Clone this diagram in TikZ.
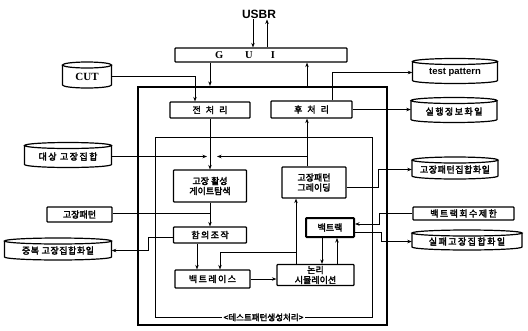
\documentclass[tikz,border=0pt]{standalone}
\usepackage{fontspec}
\setmainfont{Liberation Serif}
\newfontfamily\kr[FakeBold=2.5]{Noto Sans CJK KR}
\newfontfamily\krw[FakeBold=2.5,LetterSpace=16]{Noto Sans CJK KR}
\newfontfamily\krn[FakeBold=2.5,LetterSpace=6]{Noto Sans CJK KR}
\newfontfamily\hv{Liberation Sans}
\usetikzlibrary{arrows.meta,calc}
\newcommand\drum[6]{%
  \node[minimum width=#4pt, minimum height=#5pt, inner sep=0pt] (#1) at (#2,#3+1.5) {#6};
  \draw[drumline] (#2-#4/2,#3-#5/2+3) -- (#2-#4/2,#3+#5/2-3)
     arc[start angle=180,end angle=0,x radius=#4/2,y radius=3]
     -- (#2+#4/2,#3-#5/2+3);
  \draw[drumline] (#2,#3-#5/2+3) ellipse[x radius=#4/2,y radius=3];
}
\begin{document}
\begin{tikzpicture}[x=1pt,y=-1pt,
  every node/.style={font=\kr\fontsize{9}{10}\selectfont, align=center, inner sep=1pt},
  box/.style={draw, line width=1.2pt, rounded corners=0.8pt},
  drumline/.style={line width=1.2pt},
  conn/.style={line width=1pt},
  arr/.style={conn, -{Stealth[length=4.5pt,width=3.5pt]}}]
\useasboundingbox (0,0) rectangle (528,330);
% helper columns / rows
\coordinate (c148) at (148,0);
\coordinate (c195) at (195,0);
\coordinate (c197) at (197,0);
\coordinate (c207) at (207,0);
\coordinate (c217) at (217,0);
\coordinate (c220) at (220,0);
\coordinate (c253) at (253,0);
\coordinate (c267) at (267,0);
\coordinate (c296) at (296,0);
\coordinate (c307) at (307,0);
\coordinate (c322) at (322,0);
\coordinate (c332) at (332,0);
\coordinate (c337) at (337,0);
\coordinate (c378) at (378,0);
\coordinate (c379) at (379,0);
\coordinate (c381) at (381,0);
\coordinate (r187) at (0,187);
\coordinate (r213) at (0,213);
\coordinate (r224) at (0,224);
\coordinate (r232) at (0,232);
\coordinate (r237) at (0,237);
\coordinate (r252) at (0,252);
% frames
\node[draw, line width=2.2pt, minimum width=249pt, minimum height=238pt] (outer) at (262.5,206) {};
\node[draw, line width=0.8pt, minimum width=217pt, minimum height=180pt] (inner) at (263.5,227) {};
\node[fill=white, inner sep=1.5pt, font=\kr\fontsize{8.5}{9.5}\selectfont] (loopname) at (inner.south) {<테스트패턴생성처리>};
% top
\node[font=\hv\bfseries\fontsize{12}{13}\selectfont] (user) at (259,14) {USBR};
\node[box, minimum width=172pt, minimum height=14pt, font=\rmfamily\bfseries\fontsize{10.5}{11}\selectfont] (gui) at (261,55) {G\hspace{22pt}U\hspace{18pt}I\hspace{32pt}};
% boxes
\node[box, minimum width=80pt, minimum height=16pt] (pre) at (210,110) {전\hspace{5pt}처\hspace{5pt}리};
\node[box, minimum width=81pt, minimum height=17pt] (post) at (311.5,109.5) {후\hspace{5pt}처\hspace{5pt}리};
\node[box, minimum width=73pt, minimum height=32pt] (act) at (210,186) {고장 활성\\게이트탐색};
\node[box, minimum width=64pt, minimum height=31pt] (grade) at (314,182.5) {고장패턴\\그레이딩};
\node[box, minimum width=65pt, minimum height=15pt] (fpat) at (79.5,214.5) {고장패턴};
\node[box, minimum width=73pt, minimum height=16pt] (impl) at (210,235) {\krw 함의조작};
\node[box, minimum width=75pt, minimum height=18pt] (btrace) at (212.5,279) {\krw 백트레이스};
\node[box, minimum width=77pt, minimum height=21pt] (lsim) at (315.5,275) {논리\\시뮬레이션};
\node[box, line width=2pt, minimum width=48pt, minimum height=19pt] (btrack) at (330,227.5) {백트랙};
\node[box, minimum width=101pt, minimum height=13pt, font=\krw\fontsize{9}{10}\selectfont] (blimit) at (463.5,213.5) {백트랙회수제한};
% drums
\drum{cut}{87}{75}{49}{26}{\rmfamily\bfseries\fontsize{11}{12}\selectfont CUT}
\drum{tp}{455}{71}{85}{25}{\hv\bfseries\fontsize{9.5}{10}\selectfont test pattern}
\drum{runinfo}{454}{110}{86}{25}{\krw 실행정보화일}
\drum{target}{68}{155}{87}{25}{\krw 대상 고장집합}
\drum{fpset}{455}{168}{86}{22}{\krn 고장패턴집합화일}
\drum{redund}{58}{249}{107}{22}{\krn 중복 고장집합화일}
\drum{abort}{467}{240}{110}{20}{\krw 실패고장집합화일}
% connectors: top
\draw[arr] (user.south -| c253) -- (gui.north -| c253);
\draw[arr] (gui.north -| c267) -- (user.south -| c267);
\draw[arr] (gui.south -| pre.north) -- (outer.north -| pre.north);
\draw[arr] (outer.north -| c307) -- (gui.south -| c307);
\draw[arr] (cut.east) -| (pre.north -| c195);
\draw[arr] (post.north -| c332) |- (tp.west);
\draw[arr] (post.east) -- (runinfo.west |- post.east);
% middle
\draw[arr] (pre.south) -- (act.north);
\draw[arr] (target.east) -- (c207 |- target.east);
\draw[arr] (grade.north -| c307) -- (post.south -| c307);
\draw[arr] (c307 |- target.east) -- (c217 |- target.east);
\draw[arr] (grade.east |- r187) -| (c378 |- fpset.west) -- (fpset.west);
\draw[conn] (fpat.east |- r213) -- (act.south |- r213);
\draw[arr] (act.south) -- (impl.north);
\draw[arr] (impl.west |- r237) -| (c148 |- redund.east) -- (redund.east);
\draw[arr] (impl.south -| c197) -- (btrace.north -| c197);
% lower
\draw[arr] (lsim.north -| c296) -- (grade.south -| c296);
\draw[arr] (c296 |- r252) -| (btrace.north -| c220);
\draw[arr] (btrace.east) -- (lsim.west |- btrace.east);
\draw[arr] (btrack.south -| c322) -- (lsim.north -| c322);
\draw[arr] (lsim.north -| c337) -- (btrack.south -| c337);
\draw[arr] (blimit.west) -| (c379 |- r224) -- (btrack.east |- r224);
\draw[arr] (btrack.east |- r232) -| (c381 |- abort.west) -- (abort.west);
\end{tikzpicture}
\end{document}
